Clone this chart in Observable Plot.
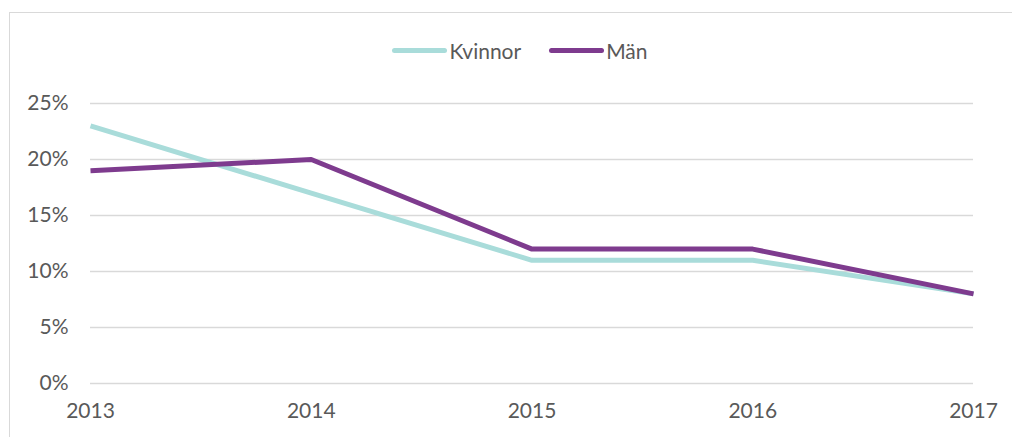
<!DOCTYPE html>
<html>
<head>
<meta charset="utf-8">
<script src="https://cdn.jsdelivr.net/npm/d3@7"></script>
<script src="https://cdn.jsdelivr.net/npm/@observablehq/plot@0.6"></script>
<style>
  html, body { margin: 0; padding: 0; background: #fff; overflow: hidden; }
  body { width: 1012px; height: 437px; position: relative; font-family: Lato, "Open Sans", sans-serif; }
  #frame { position: absolute; left: 9px; top: 12px; width: 1003px; height: 425px; border-top: 1.5px solid #d9d9d9; border-left: 1.5px solid #d9d9d9; box-sizing: border-box; }
  #legend { position: absolute; top: 38px; left: 0; width: 1012px; display: flex; justify-content: center; gap: 28px; font-size: 21px; color: #595959; padding-left: 28px; box-sizing: border-box; }
  .item { display: flex; align-items: center; }
  .sw { width: 55px; height: 5px; border-radius: 3px; margin-right: 2px; }
  #chart { position: absolute; left: 0; top: 0; }
</style>
</head>
<body>
<div id="frame"></div>
<div id="chart"></div>
<div id="legend"></div>
<script>
const years = [2013, 2014, 2015, 2016, 2017];
const kvinnor = [0.23, 0.17, 0.11, 0.11, 0.08];
const man = [0.19, 0.20, 0.12, 0.12, 0.08];
const seriesNames = ["Kvinnor", "Män"];
const seriesColors = ["#a9dcda", "#7e3b8e"];
const yTicks = [0, 0.05, 0.10, 0.15, 0.20, 0.25];

const data = [];
years.forEach((y, i) => {
  data.push({year: y, value: kvinnor[i], series: seriesNames[0]});
});
years.forEach((y, i) => {
  data.push({year: y, value: man[i], series: seriesNames[1]});
});

const chart = Plot.plot({
  width: 1012,
  height: 437,
  marginLeft: 90,
  marginRight: 39,
  marginTop: 103,
  marginBottom: 54,
  style: {fontFamily: "Lato, 'Open Sans', sans-serif", fontSize: "21px", color: "#595959", background: "transparent"},
  x: {type: "linear", domain: [2013, 2017]},
  y: {domain: [0, 0.25]},
  color: {domain: seriesNames, range: seriesColors},
  marks: [
    Plot.ruleY(yTicks, {stroke: "#d9d9d9", strokeWidth: 1.5}),
    Plot.axisY({ticks: yTicks, tickSize: 0, tickPadding: 22, tickFormat: d3.format(".0%"), label: null, fill: "#595959"}),
    Plot.axisX({ticks: years, tickSize: 0, tickPadding: 20, tickFormat: d => String(d), label: null, fill: "#595959"}),
    Plot.line(data, {x: "year", y: "value", z: "series", stroke: "series", strokeWidth: 5, strokeLinejoin: "round", strokeLinecap: "butt"})
  ]
});
document.getElementById("chart").appendChild(chart);

const legend = document.getElementById("legend");
seriesNames.forEach((name, i) => {
  const item = document.createElement("div");
  item.className = "item";
  const sw = document.createElement("div");
  sw.className = "sw";
  sw.style.background = seriesColors[i];
  const t = document.createElement("span");
  t.textContent = name;
  item.appendChild(sw);
  item.appendChild(t);
  legend.appendChild(item);
});
</script>
</body>
</html>
